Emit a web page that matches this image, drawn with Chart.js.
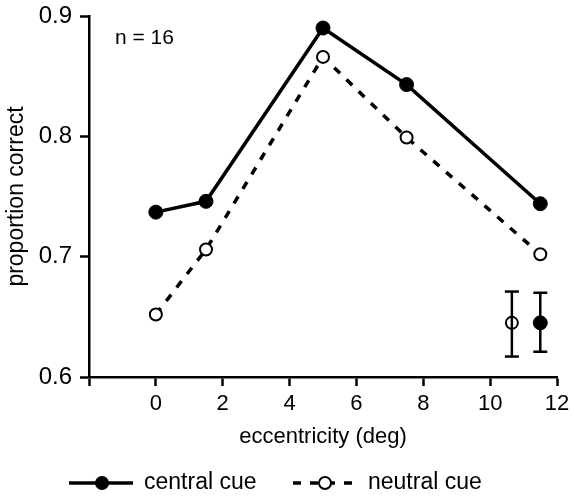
<!DOCTYPE html>
<html>
<head>
<meta charset="utf-8">
<script src="https://cdn.jsdelivr.net/npm/chart.js@4/dist/chart.umd.min.js"></script>
<style>
  html, body { margin: 0; padding: 0; background: #fff; }
  #wrap { width: 574px; height: 499px; position: relative; }
</style>
</head>
<body>
<div id="wrap"><canvas id="chart"></canvas></div>
<script>
// eccentricity (deg) and proportion correct
const eccentricity = [0, 1.5, 5, 7.5, 11.5];
const centralCue = [0.737, 0.746, 0.890, 0.843, 0.744];
const neutralCue = [0.652, 0.706, 0.866, 0.799, 0.702];

// mean error bars shown at the lower right
const errNeutral = { x: 10.65, y: 0.645, low: 0.617, high: 0.671 };
const errCentral = { x: 11.5, y: 0.645, low: 0.621, high: 0.670 };

const xTicks = [-2, 0, 2, 4, 6, 8, 10, 12];
const yTicks = [0.6, 0.7, 0.8, 0.9];

const FONT = 'Liberation Sans, Arial, Helvetica, sans-serif';

function toPoints(xs, ys) {
    return xs.map((x, i) => ({ x: x, y: ys[i] }));
}

function errBar(e) {
    return {
        data: [{ x: e.x, y: e.low }, { x: e.x, y: e.high }],
        showLine: true,
        borderColor: '#000',
        borderWidth: 2.5,
        pointStyle: 'line',
        pointRadius: 7,
        pointBorderWidth: 2.5,
        pointBorderColor: '#000'
    };
}

// legend drawn under the axis, line with marker like the figure
const legendPlugin = {
    id: 'lineLegend',
    afterDraw(chart) {
        const ctx = chart.ctx;
        const y = 483;
        ctx.save();
        ctx.strokeStyle = '#000';
        ctx.lineWidth = 3.5;

        ctx.beginPath();
        ctx.moveTo(69, y);
        ctx.lineTo(133, y);
        ctx.stroke();
        ctx.beginPath();
        ctx.arc(102, y, 7, 0, Math.PI * 2);
        ctx.fillStyle = '#000';
        ctx.fill();

        ctx.setLineDash([8, 9]);
        ctx.beginPath();
        ctx.moveTo(293, y);
        ctx.lineTo(358, y);
        ctx.stroke();
        ctx.setLineDash([]);
        ctx.lineWidth = 2;
        ctx.beginPath();
        ctx.arc(325, y, 6, 0, Math.PI * 2);
        ctx.fillStyle = '#fff';
        ctx.fill();
        ctx.stroke();

        ctx.fillStyle = '#000';
        ctx.font = '23px ' + FONT;
        ctx.textBaseline = 'middle';
        ctx.fillText('central cue', 144, y);
        ctx.fillText('neutral cue', 368, y);

        ctx.font = '21px ' + FONT;
        ctx.fillText('n = 16', 115, 38);
        ctx.restore();
    }
};

new Chart(document.getElementById('chart'), {
    type: 'scatter',
    data: {
        datasets: [
            {
                data: toPoints(eccentricity, neutralCue),
                showLine: true,
                borderColor: '#000',
                borderWidth: 3.5,
                borderDash: [8, 9],
                pointRadius: 6,
                pointBorderWidth: 2,
                pointBackgroundColor: '#fff',
                pointBorderColor: '#000'
            },
            {
                data: toPoints(eccentricity, centralCue),
                showLine: true,
                borderColor: '#000',
                borderWidth: 3.5,
                pointRadius: 7,
                pointBorderWidth: 1,
                pointBackgroundColor: '#000',
                pointBorderColor: '#000'
            },
            errBar(errNeutral),
            errBar(errCentral),
            {
                data: [{ x: errNeutral.x, y: errNeutral.y }],
                pointRadius: 6,
                pointBorderWidth: 2,
                pointBackgroundColor: '#fff',
                pointBorderColor: '#000'
            },
            {
                data: [{ x: errCentral.x, y: errCentral.y }],
                pointRadius: 7,
                pointBorderWidth: 1,
                pointBackgroundColor: '#000',
                pointBorderColor: '#000'
            }
        ]
    },
    options: {
        responsive: true,
        maintainAspectRatio: false,
        animation: false,
        layout: { padding: { top: 16, right: 17, bottom: 44, left: 0 } },
        plugins: {
            legend: { display: false },
            tooltip: { enabled: false }
        },
        scales: {
            x: {
                type: 'linear',
                min: -2,
                max: 12,
                afterBuildTicks: s => { s.ticks = xTicks.map(v => ({ value: v })); },
                afterFit: s => { s.height = 78; s.paddingLeft = 0; s.paddingRight = 0; },
                ticks: {
                    color: '#000',
                    padding: 5,
                    font: { size: 22, family: FONT },
                    callback: v => (v === -2 ? '' : v)
                },
                grid: { drawOnChartArea: false, tickLength: 9, tickWidth: 2.5, tickColor: '#000' },
                border: { color: '#000', width: 2.5 },
                title: {
                    display: true,
                    text: 'eccentricity (deg)',
                    color: '#000',
                    font: { size: 22, family: FONT },
                    padding: { top: 0, bottom: 5 }
                }
            },
            y: {
                min: 0.6,
                max: 0.9,
                afterBuildTicks: s => { s.ticks = yTicks.map(v => ({ value: v })); },
                afterFit: s => { s.width = 89; s.paddingTop = 0; s.paddingBottom = 0; },
                ticks: {
                    color: '#000',
                    padding: 8,
                    font: { size: 24, family: FONT },
                    callback: v => v.toFixed(1)
                },
                grid: { drawOnChartArea: false, tickLength: 9, tickWidth: 2.5, tickColor: '#000' },
                border: { color: '#000', width: 2.5 },
                title: {
                    display: true,
                    text: 'proportion correct',
                    color: '#000',
                    font: { size: 23, family: FONT },
                    padding: { top: 3, bottom: 0 }
                }
            }
        }
    },
    plugins: [legendPlugin]
});
</script>
</body>
</html>
